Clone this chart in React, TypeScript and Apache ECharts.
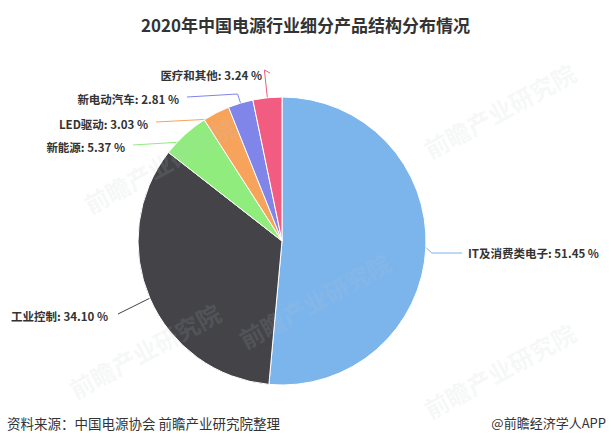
import React, { useEffect, useRef } from "react";
import * as echarts from "echarts";

const categories = ["IT及消费类电子", "工业控制", "新能源", "LED驱动", "新电动汽车", "医疗和其他"];
const values = [51.45, 34.1, 5.37, 3.03, 2.81, 3.24];
const colors = ["#7cb5ec", "#434348", "#90ed7d", "#f7a35c", "#8085e9", "#f15c80"];
const titleText = "2020年中国电源行业细分产品结构分布情况";
const sourceText = "资料来源：中国电源协会 前瞻产业研究院整理";
const brandText = "@前瞻经济学人APP";
const watermarkText = "前瞻产业研究院";

// label placement (anchor x, centre y, side) — layout only
const labelPlacement = [
  { x: 468, y: 253, side: "right" },
  { x: 108, y: 316, side: "left", straight: true },
  { x: 125, y: 147, side: "left" },
  { x: 148, y: 124, side: "left" },
  { x: 179, y: 99, side: "left" },
  { x: 262, y: 75, side: "left" },
];

const watermarks = [
  { x: 80, y: 195 },
  { x: 420, y: 140 },
  { x: 235, y: 330 },
  { x: 65, y: 380 },
  { x: 420, y: 400 },
];

export default function App() {
  const ref = useRef<HTMLDivElement>(null);
  useEffect(() => {
    document.body.style.margin = "0";
    const chart = echarts.init(ref.current!, null, { renderer: "svg" });
    chart.setOption({
      animation: false,
      backgroundColor: "#ffffff",
      title: {
        text: titleText,
        left: "center",
        top: 11,
        textStyle: { fontSize: 17, fontWeight: "bold", color: "#333333", fontFamily: "Noto Sans CJK SC" },
      },
      graphic: [
        ...watermarks.map((w) => ({
          type: "text",
          x: w.x,
          y: w.y,
          rotation: 0.5,
          z: 100,
          silent: true,
          style: {
            text: watermarkText,
            fontSize: 24,
            fontWeight: "bold",
            fill: "rgba(190,200,205,0.15)",
            fontFamily: "Noto Sans CJK SC",
          },
        })),
        {
          type: "text",
          left: 7,
          top: 416,
          style: { text: sourceText, fontSize: 13.5, fill: "#333333", fontFamily: "Noto Sans CJK SC" },
        },
        {
          type: "text",
          right: 5,
          top: 416,
          style: { text: brandText, fontSize: 13, fill: "#333333", fontFamily: "Noto Sans CJK SC" },
        },
      ],
      series: [
        {
          type: "pie",
          center: [282, 241],
          radius: 144,
          startAngle: 90,
          clockwise: true,
          data: categories.map((c, i) => ({ name: c, value: values[i], itemStyle: { color: colors[i] } })),
          itemStyle: { borderColor: "#ffffff", borderWidth: 1 },
          label: {
            show: true,
            formatter: (p: any) => `${p.name}: ${p.value.toFixed(2)} %`,
            fontSize: 11.5,
            fontWeight: "bold",
            color: "#333333",
            fontFamily: "Noto Sans CJK SC",
          },
          labelLine: { show: true, length: 14, length2: 22, lineStyle: { width: 1 } },
          labelLayout: (params: any) => {
            const pl = labelPlacement[params.dataIndex];
            const pts = params.labelLinePoints;
            if (!pl || !pts) return {};
            const p0 = pts[0];
            let line;
            if (pl.side === "right") {
              const end = [pl.x - 6, pl.y];
              line = [p0, [p0[0] + 6, pl.y], end];
            } else if (pl.straight) {
              const end = [pl.x + 10, pl.y - 2];
              line = [p0, [(p0[0] + end[0]) / 2, (p0[1] + end[1]) / 2], end];
            } else {
              const end = [pl.x + 8, pl.y - 2];
              line = [p0, [p0[0] - 3, pl.y - 5], end];
            }
            return {
              x: pl.x,
              y: pl.y,
              align: pl.side === "right" ? "left" : "right",
              verticalAlign: "middle",
              labelLinePoints: line,
            };
          },
        },
      ],
    });
    return () => chart.dispose();
  }, []);
  return <div ref={ref} style={{ width: 611, height: 445 }} />;
}
